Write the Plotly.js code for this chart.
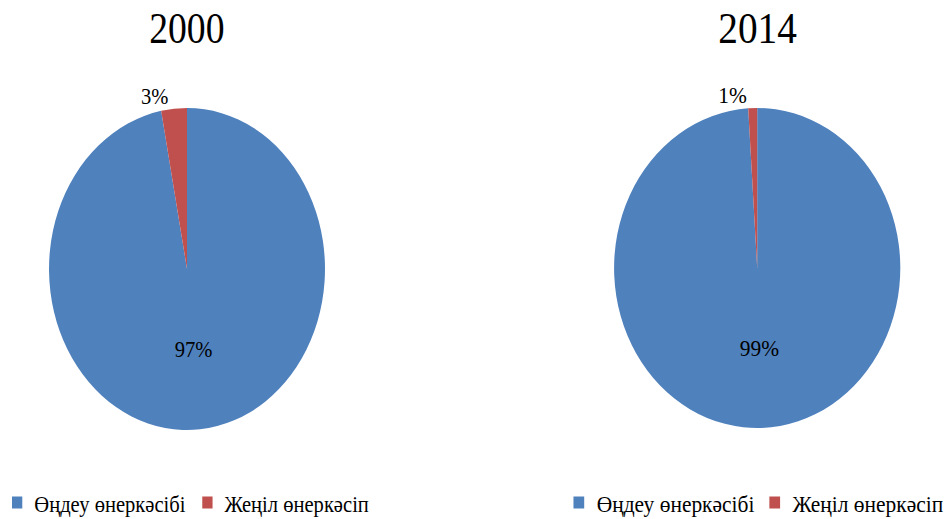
<!DOCTYPE html>
<html>
<head>
<meta charset="utf-8">
<script src="https://cdn.plot.ly/plotly-3.0.1.min.js"></script>
<style>
  html, body { margin: 0; padding: 0; overflow: hidden; background: #fff; }
  #wrap { position: relative; width: 949px; height: 519px; overflow: hidden; }
  #left { position: absolute; left: 0; top: 0; width: 553px; height: 519px; transform: scaleX(0.8571); transform-origin: 0 0; }
  #right { position: absolute; left: 474px; top: 0; width: 600px; height: 519px; transform: scaleX(0.8945); transform-origin: 0 0; }
</style>
</head>
<body>
<div id="wrap"><div id="left"></div><div id="right"></div></div>
<script>
const categories = ["Өңдеу өнеркәсібі", "Жеңіл өнеркәсіп"];
const years = ["2000", "2014"];
const values2000 = [97, 3];
const values2014 = [99, 1];
const colors = ["#4F81BD", "#C0504D"];

const FONT = "Liberation Serif";

function pieTrace(values, domain) {
  return {
    type: "pie",
    labels: categories,
    values: values,
    sort: false,
    direction: "clockwise",
    rotation: 0,
    domain: domain,
    marker: { colors: colors, line: { width: 0 } },
    texttemplate: "%{percent:.0%}",
    textposition: "auto",
    insidetextorientation: "horizontal",
    textfont: { family: FONT, size: 24, color: "#000" },
    hoverinfo: "label+percent"
  };
}

function pieLayout(width, title, titleX, legendX, entryW) {
  return {
    width: width,
    height: 519,
    margin: { l: 0, r: 0, t: 0, b: 0, autoexpand: false },
    font: { family: FONT, size: 24, color: "#000" },
    paper_bgcolor: "rgba(0,0,0,0)",
    showlegend: true,
    legend: {
      orientation: "h",
      xanchor: "left",
      yanchor: "middle",
      x: legendX,
      y: 0.031,
      entrywidth: entryW,
      font: { family: FONT, size: 24, color: "#000" },
      bgcolor: "rgba(0,0,0,0)",
      traceorder: "normal"
    },
    annotations: [
      { text: title, x: titleX, y: 1 - 29 / 519, xref: "paper", yref: "paper",
        xanchor: "center", yanchor: "middle", showarrow: false,
        font: { family: FONT, size: 44, color: "#000" } }
    ]
  };
}

const cfg = { displayModeBar: false, staticPlot: true };

Plotly.newPlot("left",
  [pieTrace(values2000, { x: [0.1034, 0.6857], y: [0.1715, 0.7919] })],
  pieLayout(553, years[0], 0.3946, 0, 177), cfg);

Plotly.newPlot("right",
  [pieTrace(values2014, { x: [0.261, 0.7943], y: [0.1753, 0.7919] })],
  pieLayout(600, years[1], 0.5277, 0.162, 174), cfg);
</script>
</body>
</html>
